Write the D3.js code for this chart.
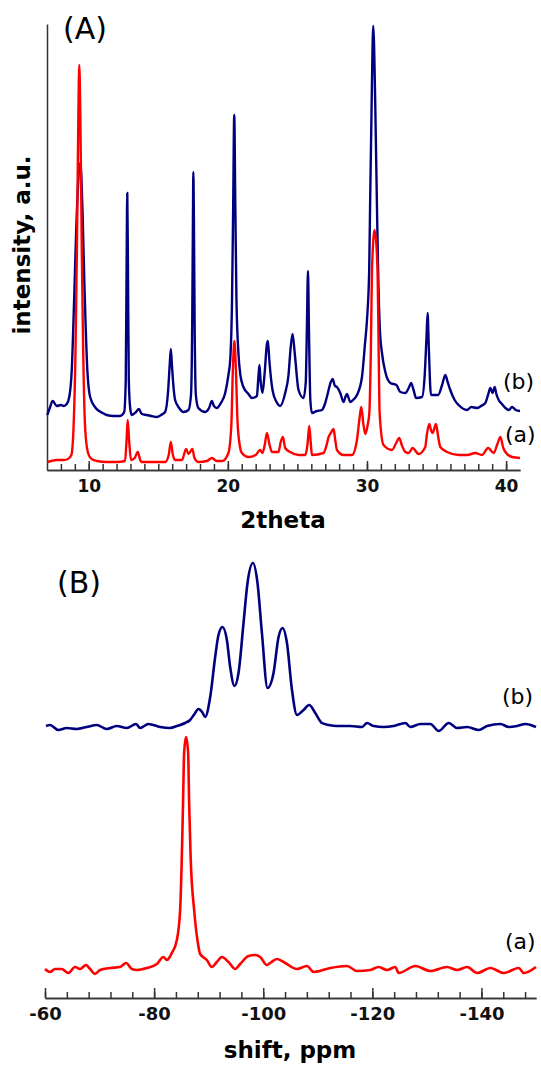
<!DOCTYPE html>
<html>
<head>
<meta charset="utf-8">
<script src="https://cdn.jsdelivr.net/npm/d3@7"></script>
<style>
  html, body { margin: 0; padding: 0; background: #fff; }
  svg { display: block; }
  text { font-family: "DejaVu Sans", Verdana, sans-serif; }
</style>
</head>
<body>
<svg id="chart" width="541" height="1071"></svg>
<script>
// ---------- DATA ----------
// Panel A: XRD, 2theta vs intensity (a.u.)
const xrdMajorTicks = [10, 20, 30, 40];
const xrdTickLabels = ["10", "20", "30", "40"];
const xrdLabels = ["(b)", "(a)"];
const xrdSampleB = [
[7.02,55],[7.2,62],[7.41,69],[7.7,64],[8.0,65],[8.2,64],[8.42,66],[8.6,73],[8.78,100],[8.95,170],[9.1,240],[9.25,290],[9.4,307],[9.55,260],[9.7,180],[9.9,100],[10.1,73],[10.5,62],[11.0,57],[11.29,55],[11.8,54],[12.25,54],[12.55,58],[12.66,90],[12.72,200],[12.77,277],[12.82,200],[12.88,90],[12.98,62],[13.09,55],[13.4,58],[13.6,61],[13.81,56],[14.17,55],[14.5,54],[14.89,53],[15.2,55],[15.49,58],[15.7,78],[15.82,105],[15.9,121],[15.98,105],[16.1,82],[16.21,70],[16.5,62],[16.81,58],[17.17,60],[17.35,75],[17.44,150],[17.49,250],[17.52,298],[17.56,250],[17.61,150],[17.7,75],[17.88,62],[18.37,58],[18.65,62],[18.85,69],[19.0,64],[19.21,62],[19.5,67],[19.81,77],[20.04,95],[20.17,110],[20.3,170],[20.38,260],[20.46,355],[20.54,260],[20.62,170],[20.76,117],[20.9,95],[21.12,83],[21.48,76],[21.73,72],[22.09,74],[22.18,90],[22.27,105],[22.36,88],[22.49,77],[22.65,98],[22.8,125],[22.88,129],[22.98,110],[23.21,80],[23.5,68],[23.76,64],[24.12,77],[24.36,95],[24.5,120],[24.65,136],[24.82,115],[25.08,80],[25.44,72],[25.6,88],[25.68,140],[25.76,199],[25.83,140],[25.93,70],[26.04,57],[26.4,59],[26.76,60],[27.0,67],[27.19,77],[27.4,88],[27.53,91],[27.7,84],[27.84,83],[28.08,77],[28.32,68],[28.45,73],[28.56,76],[28.8,68],[29.0,70],[29.28,75],[29.64,93],[29.85,125],[30.0,150],[30.16,200],[30.23,270],[30.34,370],[30.45,444],[30.59,370],[30.71,270],[30.8,200],[30.93,140],[31.08,117],[31.32,98],[31.68,87],[32.11,85],[32.4,78],[32.76,77],[33.0,82],[33.17,87],[33.35,80],[33.53,72],[33.96,73],[34.15,95],[34.27,130],[34.36,157],[34.45,120],[34.6,75],[35.11,75],[35.4,85],[35.63,95],[35.8,88],[35.99,80],[36.3,70],[36.59,65],[37.19,60],[37.5,63],[37.91,62],[38.2,64],[38.51,67],[38.7,75],[38.87,82],[39.02,77],[39.18,83],[39.3,76],[39.47,70],[39.7,66],[39.95,62],[40.2,60],[40.43,63],[40.7,60],[41.0,59]
];
const xrdSampleA = [
[7.02,8],[7.3,9],[7.7,10],[8.2,10],[8.5,11],[8.75,15],[8.9,40],[9.05,120],[9.15,220],[9.25,350],[9.32,405],[9.4,350],[9.5,220],[9.6,120],[9.75,40],[9.95,17],[10.2,11],[10.6,9],[11.29,8],[12.0,8],[12.61,9],[12.72,30],[12.8,50],[12.9,30],[13.04,10],[13.3,12],[13.53,18],[13.7,10],[13.81,8],[14.5,8],[15.49,8],[15.75,15],[15.9,28],[16.05,15],[16.21,10],[16.7,10],[17.0,21],[17.17,16],[17.45,21],[17.6,12],[17.88,8],[18.5,9],[18.85,12],[19.2,9],[19.6,9],[20.04,17],[20.25,45],[20.36,100],[20.47,129],[20.58,100],[20.69,50],[20.85,25],[21.01,17],[21.48,13],[22.0,15],[22.32,20],[22.49,17],[22.65,25],[22.81,37],[23.0,25],[23.17,18],[23.64,18],[23.8,28],[23.96,33],[24.12,22],[24.48,18],[25.08,15],[25.56,15],[25.72,25],[25.85,44],[25.97,25],[26.04,15],[26.88,17],[27.1,25],[27.24,33],[27.4,37],[27.6,41],[27.72,30],[27.84,20],[28.32,15],[28.92,15],[29.28,30],[29.45,50],[29.59,63],[29.75,45],[29.88,36],[30.05,45],[30.17,57],[30.28,120],[30.36,200],[30.55,240],[30.76,200],[30.84,120],[30.91,57],[31.19,25],[31.8,20],[32.1,27],[32.32,32],[32.5,25],[32.76,18],[33.0,17],[33.28,22],[33.71,16],[34.19,23],[34.3,35],[34.48,46],[34.6,40],[34.72,37],[34.96,46],[35.1,35],[35.27,23],[35.76,18],[36.59,15],[37.2,15],[37.79,17],[38.27,15],[38.71,22],[39.11,17],[39.35,25],[39.59,33],[39.8,22],[39.95,18],[40.43,13],[41.0,12]
];

// Panel B: NMR, shift (ppm) vs intensity
const nmrMajorTicks = [-60, -80, -100, -120, -140];
const nmrTickLabels = ["-60", "-80", "-100", "-120", "-140"];
const nmrLabels = ["(b)", "(a)"];
const nmrSampleB = [
[-60.18,272],[-60.92,273],[-62.44,268],[-63.98,270],[-65.82,269],[-67.65,271],[-69.49,273],[-71.32,269],[-73.16,272],[-74.99,270],[-76.7,274],[-77.43,270],[-78.95,274],[-81.1,271],[-82.94,270],[-84.17,272],[-85.69,275],[-86.6,278],[-87.4,284],[-88.13,289],[-88.8,286],[-89.36,281],[-90.28,301],[-91.19,341],[-91.8,363],[-92.53,371],[-93.34,358],[-93.94,331],[-94.73,312],[-95.47,325],[-96.39,375],[-97.12,415],[-98.11,435],[-98.95,415],[-99.76,365],[-100.79,310],[-101.89,325],[-102.81,361],[-103.54,370],[-104.35,355],[-105.27,308],[-106.18,283],[-107.39,288],[-108.44,293],[-109.54,285],[-110.77,275],[-112.0,273],[-113.52,272],[-115.96,272],[-118.11,271],[-119.03,275],[-120.24,272],[-122.07,271],[-123.91,272],[-126.06,275],[-126.97,271],[-128.81,274],[-130.64,274],[-132.17,267],[-134.0,275],[-135.54,270],[-137.38,271],[-139.5,268],[-141.05,272],[-143.49,274],[-145.01,271],[-146.55,272],[-148.07,274],[-150.0,271]
];
const nmrSampleA = [
[-60,29],[-60.92,26],[-61.83,29],[-63.06,29],[-64.28,25],[-65.5,31],[-66.42,29],[-67.52,33],[-68.26,29],[-69.17,24],[-70.09,28],[-71.93,30],[-73.76,31],[-74.86,35],[-75.91,29],[-76.83,28],[-78.66,30],[-80.5,34],[-81.71,41],[-82.33,38],[-83.25,45],[-84.17,58],[-84.77,88],[-85.14,155],[-85.32,200],[-85.5,245],[-85.85,261],[-86.24,245],[-86.42,195],[-86.7,140],[-87.34,88],[-88.02,55],[-88.44,44],[-89.67,38],[-90.59,31],[-91.5,36],[-92.42,41],[-93.63,36],[-94.86,29],[-95.78,34],[-97.3,42],[-98.53,43],[-99.45,41],[-100.68,33],[-101.28,35],[-102.51,39],[-104.04,35],[-106.18,29],[-108.02,32],[-109.23,26],[-112.29,30],[-115.36,32],[-117.19,27],[-119.63,28],[-121.16,31],[-122.7,28],[-124.22,31],[-124.83,25],[-127.89,32],[-130.64,27],[-133.7,31],[-135.54,28],[-137.38,31],[-139.21,25],[-141.65,30],[-144.09,25],[-146.84,30],[-147.76,25],[-150.0,31]
];

// ---------- DRAW ----------
const svg = d3.select("#chart");
svg.append("rect").attr("width", 541).attr("height", 1071).attr("fill", "#fff");

const BLUE = "#00007f", RED = "#ff0000", AXIS = "#333";

// Panel A scales
const xA = d3.scaleLinear().domain([7, 41]).range([47, 520]);
const yA = d3.scaleLinear().domain([0, 446]).range([470, 24]);
// Panel B scales
const xB = d3.scaleLinear().domain([-60, -150]).range([45, 536]);
const yB = d3.scaleLinear().domain([0, 443]).range([998, 555]);

function styleAxis(g) {
  g.selectAll("path.domain").attr("stroke", AXIS).attr("stroke-width", 1.5);
  g.selectAll(".tick line").attr("stroke", AXIS).attr("stroke-width", 1.5);
  g.selectAll(".tick text").attr("fill", "#111").attr("font-weight", "bold")
    .attr("font-family", "DejaVu Sans, sans-serif");
}

// ----- Panel A axes -----
const gAminor = svg.append("g").attr("transform", "translate(0,470)")
  .call(d3.axisBottom(xA).tickValues(d3.range(8, 41)).tickSize(-6).tickSizeOuter(0).tickFormat(""));
styleAxis(gAminor);
const gAmajor = svg.append("g").attr("transform", "translate(0,470)")
  .call(d3.axisBottom(xA).tickValues(xrdMajorTicks).tickSize(-9).tickSizeOuter(0).tickPadding(10)
    .tickFormat((d, i) => xrdTickLabels[i]));
gAmajor.selectAll(".tick text").attr("font-size", 17);
styleAxis(gAmajor);
const gAy = svg.append("g").attr("transform", "translate(47,0)")
  .call(d3.axisLeft(yA).tickValues([]).tickSizeOuter(0));
styleAxis(gAy);

const lineA = d3.line().x(d => xA(d[0])).y(d => yA(d[1])).curve(d3.curveMonotoneX);
svg.append("path").datum(xrdSampleB).attr("d", lineA)
  .attr("fill", "none").attr("stroke", BLUE).attr("stroke-width", 2.4).attr("stroke-linejoin", "round");
svg.append("path").datum(xrdSampleA).attr("d", lineA)
  .attr("fill", "none").attr("stroke", RED).attr("stroke-width", 2.4).attr("stroke-linejoin", "round");

svg.append("text").attr("x", 63).attr("y", 39).attr("font-size", 30).text("(A)");
svg.append("text").attr("x", 503).attr("y", 389).attr("font-size", 22).text(xrdLabels[0]);
svg.append("text").attr("x", 505).attr("y", 442).attr("font-size", 22).text(xrdLabels[1]);
svg.append("text").attr("x", 283).attr("y", 528).attr("font-size", 23).attr("font-weight", "bold")
  .attr("text-anchor", "middle").text("2theta");
svg.append("text").attr("transform", "translate(30,245) rotate(-90)").attr("font-size", 23)
  .attr("font-weight", "bold").attr("text-anchor", "middle").text("intensity, a.u.");

// ----- Panel B axes -----
const gBminor = svg.append("g").attr("transform", "translate(0,998)")
  .call(d3.axisBottom(xB).tickValues(d3.range(-60, -150, -4)).tickSize(-6).tickSizeOuter(0).tickFormat(""));
styleAxis(gBminor);
const gBmajor = svg.append("g").attr("transform", "translate(0,998)")
  .call(d3.axisBottom(xB).tickValues(nmrMajorTicks).tickSize(-10).tickSizeOuter(0).tickPadding(9)
    .tickFormat((d, i) => nmrTickLabels[i]));
gBmajor.selectAll(".tick text").attr("font-size", 18);
styleAxis(gBmajor);

const lineB = d3.line().x(d => xB(d[0])).y(d => yB(d[1])).curve(d3.curveMonotoneX);
svg.append("path").datum(nmrSampleB).attr("d", lineB)
  .attr("fill", "none").attr("stroke", BLUE).attr("stroke-width", 2.6).attr("stroke-linejoin", "round");
svg.append("path").datum(nmrSampleA).attr("d", lineB)
  .attr("fill", "none").attr("stroke", RED).attr("stroke-width", 2.6).attr("stroke-linejoin", "round");

svg.append("text").attr("x", 57).attr("y", 593).attr("font-size", 30).text("(B)");
svg.append("text").attr("x", 502).attr("y", 704).attr("font-size", 22).text(nmrLabels[0]);
svg.append("text").attr("x", 505).attr("y", 949).attr("font-size", 22).text(nmrLabels[1]);
svg.append("text").attr("x", 290).attr("y", 1058).attr("font-size", 23).attr("font-weight", "bold")
  .attr("text-anchor", "middle").text("shift, ppm");
</script>
</body>
</html>
